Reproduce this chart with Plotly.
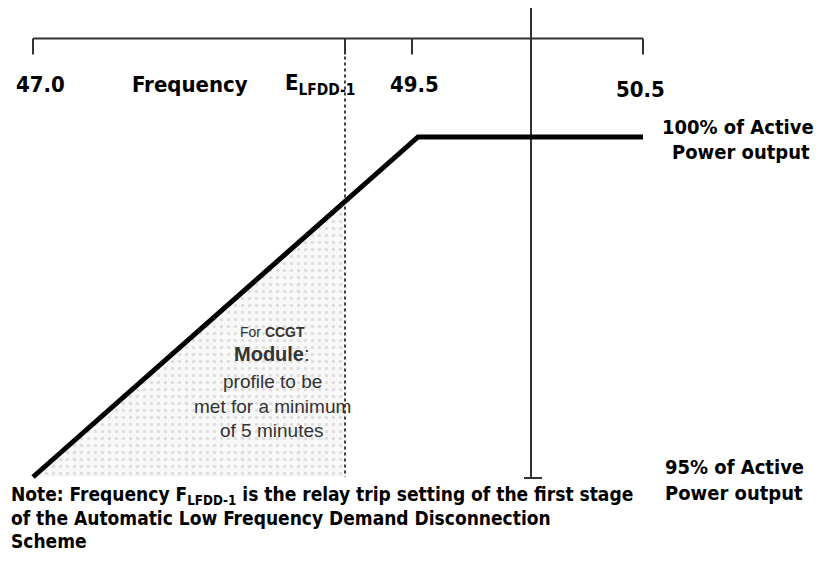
import numpy as np
import plotly.graph_objects as go

# ---- Data (schematic, not-to-scale frequency axis) ----
tick_labels = ["47.0", "E<sub>LFDD-1</sub>", "49.5", "50.5"]
tick_pos = [0, 312, 379, 610]          # positions along the schematic frequency axis
nominal_pos = 498                       # vertical reference line position

profile_x = [0, 385, 610]               # power profile breakpoints (axis position)
profile_y = [95, 100, 100]              # % of active power output

shade_end = 312                         # shaded zone runs from 47.0 to E_LFDD-1
power_floor = 95                        # % of active power (bottom of the diagram)

axis_level = 101.45                     # level of the schematic frequency axis (% scale)
tick_len = 0.235
ref_top = 101.9

# page offset (browser body margin) and figure size
OFF = 8
W, H = 822 - OFF, 561 - OFF


def px(xp):
    return (xp - OFF) / W


def py(yp):
    return 1 - (yp - OFF) / H


# ---- Derived geometry ----
shade_top = float(np.interp(shade_end, profile_x, profile_y))
shade_x = [profile_x[0], shade_end, shade_end, profile_x[0]]
shade_y = [profile_y[0], shade_top, power_floor, power_floor]

tx, ty = [], []
for p in tick_pos:
    tx += [p, p, None]
    ty += [axis_level, axis_level - tick_len, None]

fig = go.Figure()

fig.add_trace(go.Scatter(
    x=shade_x, y=shade_y, fill="toself", mode="lines",
    line=dict(width=0), fillcolor="#f8f8f8",
    fillpattern=dict(shape=".", fgcolor="#c4c4c4", bgcolor="#f8f8f8", size=7, solidity=0.2),
    hoverinfo="skip"))

fig.add_trace(go.Scatter(
    x=[shade_end, shade_end], y=[axis_level, power_floor], mode="lines",
    line=dict(color="#111111", width=1.6, dash="dot"), hoverinfo="skip"))

fig.add_trace(go.Scatter(
    x=[tick_pos[0], tick_pos[-1]], y=[axis_level, axis_level], mode="lines",
    line=dict(color="#333333", width=2), hoverinfo="skip"))
fig.add_trace(go.Scatter(
    x=tx, y=ty, mode="lines", line=dict(color="#333333", width=2), hoverinfo="skip"))

fig.add_trace(go.Scatter(
    x=[nominal_pos, nominal_pos, None, nominal_pos - 7, nominal_pos + 11],
    y=[ref_top, power_floor - 0.015, None, power_floor - 0.015, power_floor - 0.015],
    mode="lines", line=dict(color="#333333", width=2), hoverinfo="skip"))

fig.add_trace(go.Scatter(
    x=profile_x, y=profile_y, mode="lines",
    line=dict(color="#000000", width=5), hoverinfo="skip"))

BOLD = dict(family="DejaVu Sans Condensed, DejaVu Sans", color="#000000", weight="bold")
REG = "Liberation Sans, Arial, sans-serif"

annotations = []
label_shift = [7, -25, 2, -3]
label_y = [85, 85, 85, 89]
for lab, p, sh, ly in zip(tick_labels, tick_pos, label_shift, label_y):
    annotations.append(dict(x=p, y=py(ly), xref="x", yref="paper", text=lab,
                            showarrow=False, xshift=sh, xanchor="center", yanchor="middle",
                            font=dict(size=22, **BOLD)))
annotations.append(dict(x=px(190), y=py(85), xref="paper", yref="paper", text="Frequency",
                        showarrow=False, xanchor="center", yanchor="middle",
                        font=dict(size=22, **BOLD)))

right_labels = [
    ("100% of Active", 738, 127),
    ("Power output", 741, 152),
    ("95% of Active", 734, 467),
    ("Power output", 734, 493),
]
for txt, xp, yp in right_labels:
    annotations.append(dict(x=px(xp), y=py(yp), xref="paper", yref="paper", text=txt,
                            showarrow=False, xanchor="center", yanchor="middle",
                            font=dict(size=20, **BOLD)))

note_lines = [
    ("Note: Frequency F<sub>LFDD-1</sub> is the relay trip setting of the first stage", 495),
    ("of the Automatic Low Frequency Demand Disconnection", 518),
    ("Scheme", 541),
]
for txt, yp in note_lines:
    annotations.append(dict(x=px(9), y=py(yp), xref="paper", yref="paper", text=txt,
                            showarrow=False, xanchor="left", yanchor="middle", align="left",
                            font=dict(size=19, **BOLD)))

center_lines = [
    ("For <b>CCGT</b>", 332, 14),
    ("<b>Module</b>:", 354, 20),
    ("profile to be", 381, 19),
    ("met for a minimum", 406, 19),
    ("of 5 minutes", 430, 19),
]
for txt, yp, fs in center_lines:
    annotations.append(dict(x=px(272), y=py(yp), xref="paper", yref="paper", text=txt,
                            showarrow=False, xanchor="center", yanchor="middle",
                            font=dict(size=fs, family=REG, color="#333333")))

fig.update_layout(
    width=W, height=H, margin=dict(l=0, r=0, t=0, b=0),
    paper_bgcolor="white", plot_bgcolor="white", showlegend=False,
    xaxis=dict(visible=False, range=[OFF - 33, OFF - 33 + W], fixedrange=True),
    yaxis=dict(visible=False, range=[100 - 424 / 68, 100 + (137 - OFF) / 68], fixedrange=True),
    annotations=annotations,
)

fig.write_html("out.html")
